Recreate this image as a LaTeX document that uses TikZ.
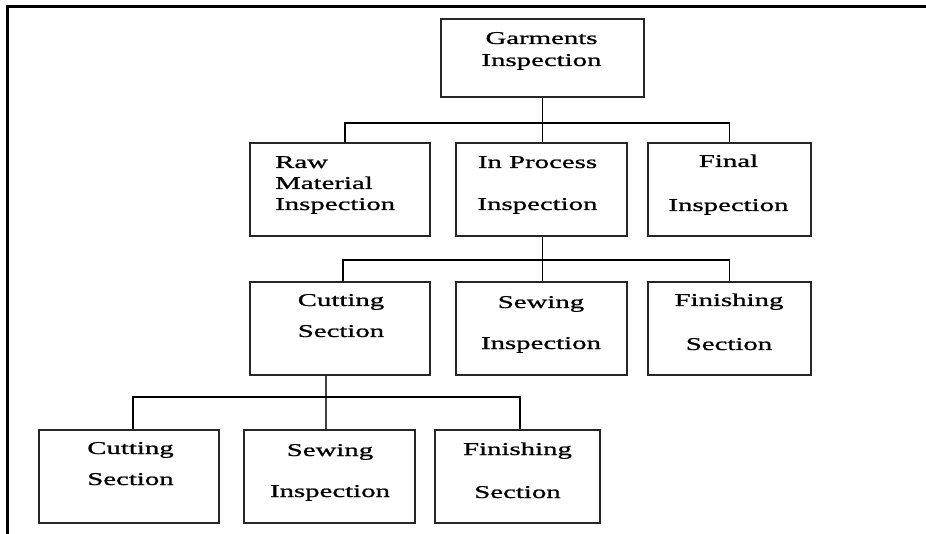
\documentclass[tikz,border=0pt]{standalone}
\usepackage{fontspec}
\setmainfont{Liberation Serif}[FakeStretch=1.6,FakeBold=1]
\begin{document}
\begin{tikzpicture}[x=1pt,y=-1pt,
  box/.style={draw=black!85,line width=1.4pt,minimum width=#1,inner sep=0pt,minimum height=93pt},
  lbl/.style={anchor=base,inner sep=0pt,font=\fontsize{18}{20}\selectfont},
  link/.style={draw=black,line width=1.5pt},
  frame/.style={draw=black,line width=3pt}]
\useasboundingbox (0,0) rectangle (926,534);
% frame
\coordinate (fa) at (926,7);
\coordinate (fb) at (7,7);
\coordinate (fc) at (7,534);
\draw[frame] (fa) -- (fb) -- (fc);
% boxes
\node[box=203pt,minimum height=78pt] (g) at (542.5,58) {};
\node[box=180pt] (raw) at (340,189.5) {};
\node[box=171pt] (inp) at (541.5,189.5) {};
\node[box=163pt] (fin) at (729.5,189.5) {};
\node[box=180pt] (cut3) at (340,328.5) {};
\node[box=171pt] (sew3) at (541.5,328.5) {};
\node[box=163pt] (fin3) at (729.5,328.5) {};
\node[box=180pt] (cut4) at (129,476.5) {};
\node[box=171pt] (sew4) at (329.5,476.5) {};
\node[box=165pt] (fin4) at (517.5,476.5) {};
% labels
\node[lbl] (g1) at (541.5,44) {Garments};
\node[lbl] (g2) at (541.5,66) {Inspection};
\node[lbl,anchor=base west] (r1) at (275,168) {Raw};
\node[lbl,anchor=base west] (r2) at (275,189) {Material};
\node[lbl,anchor=base west] (r3) at (275,210) {Inspection};
\node[lbl] (i1) at (537.5,168) {In Process};
\node[lbl] (i2) at (537.5,210) {Inspection};
\node[lbl] (f1) at (728.5,167) {Final};
\node[lbl] (f2) at (728.5,211) {Inspection};
\node[lbl] (c31) at (341,306) {Cutting};
\node[lbl] (c32) at (341,337) {Section};
\node[lbl] (s31) at (541,308) {Sewing};
\node[lbl] (s32) at (541,349) {Inspection};
\node[lbl] (f31) at (729,306) {Finishing};
\node[lbl] (f32) at (729,350) {Section};
\node[lbl] (c41) at (130.5,454) {Cutting};
\node[lbl] (c42) at (130.5,485) {Section};
\node[lbl] (s41) at (330,456) {Sewing};
\node[lbl] (s42) at (330,497) {Inspection};
\node[lbl] (f41) at (517.5,455) {Finishing};
\node[lbl] (f42) at (517.5,498) {Section};
% connectors level 1-2
\coordinate (j1) at (542.5,123);
\draw[link] (g.south) -- (j1);
\draw[link] (j1) -| (raw.north -| 345,0);
\draw[link] (j1) -| (fin.north);
\draw[link] (j1) -- (inp.north -| j1);
% level 2-3
\coordinate (j2) at (542.5,260);
\draw[link] (inp.south -| j2) -- (j2);
\draw[link] (j2) -| (cut3.north -| 343,0);
\draw[link] (j2) -| (fin3.north);
\draw[link] (j2) -- (sew3.north -| j2);
% level 3-4
\coordinate (j3) at (326,397);
\draw[link,draw=black!75] (cut3.south -| j3) -- (sew4.north -| j3);
\draw[link] (j3) -| (cut4.north -| 133,0);
\draw[link] (j3) -| (fin4.north -| 520,0);
\end{tikzpicture}
\end{document}
